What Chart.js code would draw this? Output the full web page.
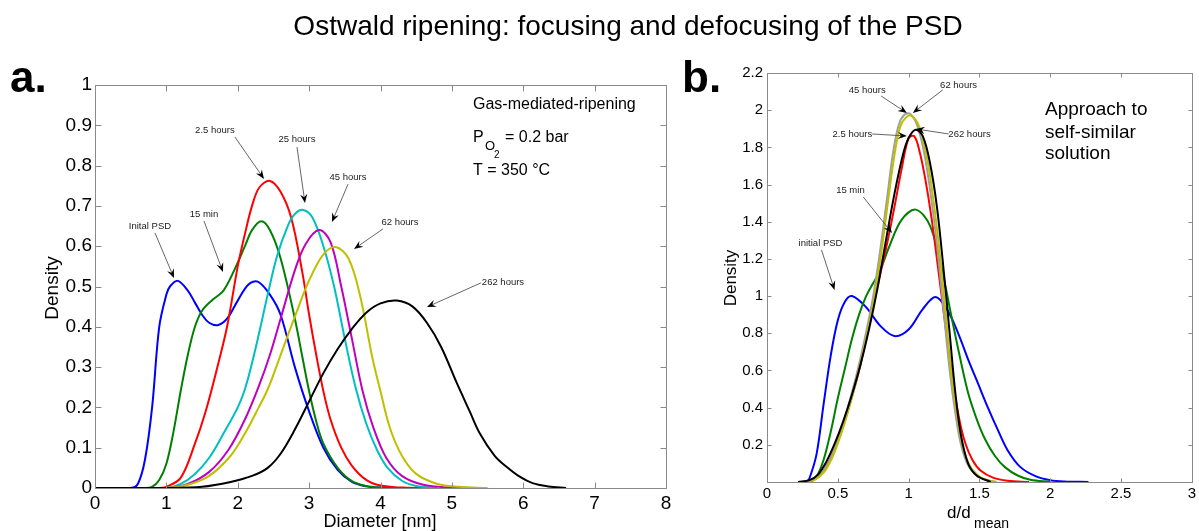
<!DOCTYPE html>
<html>
<head>
<meta charset="utf-8">
<script src="https://cdn.jsdelivr.net/npm/chart.js@4.4.1/dist/chart.umd.min.js"></script>
<style>
  html, body { margin: 0; padding: 0; background: #fff; }
  #wrap { position: relative; width: 1199px; height: 531px; }
  #wrap canvas { position: absolute; left: 0; top: 0; }
</style>
</head>
<body>
<div id="wrap">
  <canvas id="chartA" width="1199" height="531"></canvas>
  <canvas id="chartB" width="1199" height="531"></canvas>
</div>
<script>
// ---- panel a: diameter [nm] vs density ----
const initialA = [[0,0],[0.5,0],[0.6,0.01],[0.7,0.07],[0.8,0.2],[0.9,0.4],[1.0,0.48],[1.05,0.5],[1.16,0.514],[1.3,0.49],[1.4,0.46],[1.5,0.43],[1.6,0.41],[1.72,0.404],[1.85,0.42],[2.0,0.465],[2.15,0.505],[2.28,0.512],[2.45,0.48],[2.6,0.43],[2.8,0.3],[3.0,0.19],[3.2,0.1],[3.4,0.045],[3.6,0.015],[3.8,0.004],[4.0,0.001],[4.3,0]];
const min15A = [[0,0],[0.7,0],[0.8,0.003],[0.9,0.02],[1.0,0.06],[1.1,0.14],[1.2,0.24],[1.3,0.33],[1.4,0.4],[1.5,0.44],[1.64,0.466],[1.8,0.49],[1.95,0.54],[2.1,0.6],[2.2,0.64],[2.33,0.662],[2.45,0.64],[2.6,0.57],[2.8,0.42],[2.9,0.33],[3.0,0.24],[3.1,0.165],[3.2,0.11],[3.4,0.05],[3.6,0.017],[3.8,0.005],[4.0,0.001],[4.2,0]];
const h2_5A = [[0,0],[0.9,0],[1.0,0.003],[1.2,0.025],[1.4,0.11],[1.55,0.19],[1.7,0.29],[1.85,0.4],[2.0,0.55],[2.1,0.63],[2.2,0.7],[2.3,0.745],[2.45,0.762],[2.6,0.735],[2.75,0.67],[2.9,0.54],[3.0,0.43],[3.1,0.33],[3.2,0.24],[3.3,0.17],[3.45,0.1],[3.6,0.055],[3.8,0.02],[4.0,0.006],[4.3,0.001],[4.6,0]];
const h25A = [[0,0],[1.0,0],[1.2,0.01],[1.4,0.035],[1.6,0.075],[1.8,0.135],[2.0,0.2],[2.1,0.245],[2.2,0.31],[2.3,0.385],[2.42,0.48],[2.55,0.575],[2.7,0.65],[2.8,0.68],[2.92,0.69],[3.05,0.67],[3.2,0.6],[3.35,0.5],[3.5,0.37],[3.65,0.25],[3.8,0.16],[3.95,0.095],[4.1,0.05],[4.3,0.018],[4.5,0.005],[4.8,0]];
const h45A = [[0,0],[1.0,0],[1.3,0.01],[1.6,0.04],[1.87,0.095],[2.1,0.17],[2.3,0.255],[2.45,0.33],[2.6,0.42],[2.8,0.54],[2.95,0.605],[3.14,0.64],[3.3,0.61],[3.45,0.5],[3.6,0.37],[3.75,0.24],[3.9,0.15],[4.08,0.075],[4.3,0.03],[4.6,0.008],[5.0,0.001],[5.2,0]];
const h62A = [[0,0],[1.0,0],[1.3,0.008],[1.6,0.03],[1.9,0.08],[2.1,0.135],[2.25,0.185],[2.42,0.245],[2.59,0.325],[2.8,0.425],[3.0,0.515],[3.2,0.58],[3.37,0.598],[3.55,0.57],[3.71,0.48],[3.89,0.32],[4.0,0.24],[4.13,0.15],[4.3,0.08],[4.5,0.035],[4.8,0.01],[5.1,0.003],[5.5,0]];
const h262A = [[0,0],[1.0,0],[1.5,0.003],[1.9,0.015],[2.2,0.03],[2.42,0.05],[2.6,0.085],[2.8,0.145],[3.0,0.215],[3.2,0.285],[3.4,0.345],[3.6,0.395],[3.8,0.435],[4.0,0.458],[4.23,0.465],[4.45,0.45],[4.65,0.41],[4.85,0.35],[5.07,0.26],[5.25,0.19],[5.39,0.136],[5.6,0.08],[5.77,0.052],[5.95,0.028],[6.13,0.012],[6.35,0.004],[6.6,0]];

// ---- panel b: d/d_mean vs density ----
const initialB = [[0.28,0],[0.3,0.02],[0.35,0.15],[0.4,0.42],[0.45,0.68],[0.5,0.87],[0.55,0.97],[0.6,1.0],[0.7,0.94],[0.8,0.84],[0.9,0.785],[1.0,0.82],[1.1,0.93],[1.19,0.995],[1.27,0.93],[1.35,0.8],[1.42,0.66],[1.49,0.53],[1.56,0.4],[1.63,0.28],[1.7,0.17],[1.79,0.08],[1.9,0.03],[2.0,0.01],[2.1,0.003],[2.27,0]];
const min15B = [[0.27,0],[0.3,0.005],[0.35,0.03],[0.4,0.12],[0.45,0.27],[0.5,0.45],[0.55,0.61],[0.6,0.77],[0.65,0.9],[0.7,1.0],[0.75,1.07],[0.8,1.14],[0.86,1.26],[0.95,1.41],[1.05,1.465],[1.15,1.38],[1.23,1.16],[1.3,0.9],[1.36,0.68],[1.42,0.48],[1.48,0.34],[1.54,0.23],[1.61,0.14],[1.68,0.08],[1.77,0.035],[1.86,0.012],[2.0,0]];
const h2_5B = [[0.3,0],[0.35,0.02],[0.4,0.06],[0.45,0.13],[0.5,0.22],[0.55,0.33],[0.6,0.46],[0.65,0.6],[0.7,0.77],[0.75,0.95],[0.8,1.12],[0.85,1.29],[0.9,1.48],[0.95,1.68],[1.0,1.85],[1.04,1.86],[1.08,1.77],[1.12,1.62],[1.16,1.43],[1.21,1.14],[1.26,0.84],[1.31,0.55],[1.36,0.33],[1.4,0.21],[1.45,0.12],[1.51,0.06],[1.6,0.022],[1.7,0.007],[1.85,0]];
const h45B = [[0.24,0],[0.32,0.01],[0.39,0.05],[0.45,0.13],[0.51,0.25],[0.57,0.4],[0.63,0.57],[0.69,0.77],[0.75,1.0],[0.8,1.25],[0.85,1.54],[0.89,1.77],[0.93,1.92],[0.97,1.975],[1.01,1.98],[1.06,1.92],[1.11,1.77],[1.15,1.58],[1.2,1.28],[1.25,0.9],[1.29,0.6],[1.33,0.37],[1.37,0.2],[1.42,0.09],[1.49,0.03],[1.56,0.008],[1.62,0]];
const h62B = [[0.25,0],[0.33,0.01],[0.4,0.05],[0.46,0.13],[0.52,0.25],[0.58,0.4],[0.64,0.57],[0.7,0.77],[0.76,1.0],[0.81,1.25],[0.86,1.54],[0.9,1.76],[0.94,1.91],[0.98,1.96],[1.02,1.97],[1.07,1.92],[1.12,1.78],[1.16,1.6],[1.21,1.3],[1.26,0.92],[1.3,0.6],[1.34,0.37],[1.38,0.2],[1.43,0.09],[1.5,0.03],[1.57,0.008],[1.62,0]];
const h262B = [[0.22,0],[0.3,0.01],[0.36,0.04],[0.42,0.11],[0.48,0.21],[0.54,0.33],[0.6,0.47],[0.66,0.63],[0.72,0.82],[0.78,1.04],[0.84,1.3],[0.9,1.55],[0.96,1.76],[1.0,1.85],[1.05,1.895],[1.1,1.86],[1.15,1.72],[1.2,1.48],[1.25,1.12],[1.29,0.8],[1.33,0.48],[1.37,0.25],[1.42,0.1],[1.48,0.035],[1.58,0]];

const FONT = '"Liberation Sans", Arial, Helvetica, sans-serif';

function series(points, color, i) {
    return {
        data: points.map(p => ({ x: p[0], y: p[1] })),
        borderColor: color,
        borderWidth: 2,
        pointRadius: 0,
        tension: 0.35,
        fill: false,
        order: -i
    };
}

function drawArrow(ctx, x0, y0, x1, y1) {
    const ang = Math.atan2(y1 - y0, x1 - x0);
    const len = 9, half = 3.6;
    const c = Math.cos(ang), s = Math.sin(ang);
    ctx.strokeStyle = '#555';
    ctx.lineWidth = 0.9;
    ctx.beginPath();
    ctx.moveTo(x0, y0);
    ctx.lineTo(x1 - c * len * 0.6, y1 - s * len * 0.6);
    ctx.stroke();
    ctx.fillStyle = '#000';
    ctx.beginPath();
    ctx.moveTo(x1, y1);
    ctx.lineTo(x1 - c * len + s * half, y1 - s * len - c * half);
    ctx.lineTo(x1 - c * len * 0.65, y1 - s * len * 0.65);
    ctx.lineTo(x1 - c * len - s * half, y1 - s * len + c * half);
    ctx.closePath();
    ctx.fill();
}

// frame with inward ticks on all four sides, notes and extra text
const decoPlugin = {
    id: 'deco',
    afterDatasetsDraw(chart, args, opts) {
        const ctx = chart.ctx, a = chart.chartArea;
        const xs = chart.scales.x, ys = chart.scales.y;
        const tl = opts.tickLen || 5;
        ctx.save();
        ctx.strokeStyle = '#8a8a8a';
        ctx.lineWidth = 1;
        const L = Math.round(a.left) + 0.5, R = Math.round(a.right) + 0.5;
        const T = Math.round(a.top) + 0.5, B = Math.round(a.bottom) + 0.5;
        ctx.strokeRect(L, T, R - L, B - T);
        ctx.beginPath();
        xs.ticks.forEach(t => {
            const px = Math.round(xs.getPixelForValue(t.value)) + 0.5;
            ctx.moveTo(px, B); ctx.lineTo(px, B - tl);
            ctx.moveTo(px, T); ctx.lineTo(px, T + tl);
        });
        ys.ticks.forEach(t => {
            const py = Math.round(ys.getPixelForValue(t.value)) + 0.5;
            ctx.moveTo(L, py); ctx.lineTo(L + tl, py);
            ctx.moveTo(R, py); ctx.lineTo(R - tl, py);
        });
        ctx.stroke();

        // notes with arrows, given in data units
        ctx.font = '9.5px ' + FONT;
        ctx.textAlign = 'center';
        ctx.textBaseline = 'middle';
        (opts.notes || []).forEach(n => {
            ctx.fillStyle = '#222';
            ctx.fillText(n.text, xs.getPixelForValue(n.tx), ys.getPixelForValue(n.ty));
            drawArrow(ctx, xs.getPixelForValue(n.x0), ys.getPixelForValue(n.y0),
                           xs.getPixelForValue(n.x1), ys.getPixelForValue(n.y1));
        });

        // axis titles
        ctx.fillStyle = '#000';
        ctx.textBaseline = 'alphabetic';
        if (opts.yTitle) {
            ctx.save();
            ctx.translate(opts.yTitle.x, opts.yTitle.y);
            ctx.rotate(-Math.PI / 2);
            ctx.textAlign = 'center';
            ctx.font = opts.yTitle.size + 'px ' + FONT;
            ctx.fillText(opts.yTitle.text, 0, 0);
            ctx.restore();
        }
        (opts.texts || []).forEach(t => {
            ctx.font = (t.weight || '') + ' ' + t.size + 'px ' + FONT;
            ctx.textAlign = t.align || 'left';
            ctx.fillStyle = t.color || '#000';
            ctx.fillText(t.text, t.x, t.y);
        });
        ctx.restore();
    }
};

function baseOptions(pad, yWidth, xHeight, xTicks, yTicks, deco) {
    return {
        responsive: false,
        animation: false,
        layout: { padding: pad },
        plugins: { legend: { display: false }, tooltip: { enabled: false }, deco: deco },
        scales: {
            x: {
                type: 'linear',
                min: xTicks.min, max: xTicks.max,
                grid: { display: false, drawTicks: false },
                border: { display: false },
                afterFit: s => { s.height = xHeight; },
                ticks: {
                    stepSize: xTicks.step, padding: xTicks.pad, color: '#000',
                    font: { family: FONT, size: xTicks.size },
                    maxRotation: 0,
                    callback: xTicks.cb
                }
            },
            y: {
                type: 'linear',
                min: yTicks.min, max: yTicks.max,
                grid: { display: false, drawTicks: false },
                border: { display: false },
                afterFit: s => { s.width = yWidth; },
                ticks: {
                    stepSize: yTicks.step, padding: yTicks.pad, color: '#000',
                    font: { family: FONT, size: yTicks.size },
                    callback: yTicks.cb
                }
            }
        }
    };
}

const fmt = v => String(+v.toFixed(1));

// Chart a
new Chart(document.getElementById('chartA'), {
    type: 'line',
    plugins: [decoPlugin],
    data: {
        datasets: [
            series(initialA, '#0000ff', 0),
            series(min15A, '#008000', 1),
            series(h2_5A, '#ff0000', 2),
            series(h25A, '#00bfbf', 3),
            series(h45A, '#bf00bf', 4),
            series(h62A, '#bfbf00', 5),
            series(h262A, '#000000', 6)
        ]
    },
    options: baseOptions(
        { left: 35, top: 85, right: 533, bottom: 0 }, 60, 43,
        { min: 0, max: 8, step: 1, pad: 4, size: 19, cb: fmt },
        { min: 0, max: 1, step: 0.1, pad: 3, size: 19, cb: fmt },
        {
            tickLen: 6,
            yTitle: { text: 'Density', x: 58, y: 288, size: 19 },
            notes: [
                { text: 'Inital PSD', tx: 0.77, ty: 0.65, x0: 0.84, y0: 0.633, x1: 1.107, y1: 0.521 },
                { text: '15 min', tx: 1.527, ty: 0.68, x0: 1.527, y0: 0.6625, x1: 1.793, y1: 0.536 },
                { text: '2.5 hours', tx: 1.68, ty: 0.888, x0: 1.96, y0: 0.871, x1: 2.368, y1: 0.767 },
                { text: '25 hours', tx: 2.83, ty: 0.864, x0: 2.83, y0: 0.846, x1: 2.942, y1: 0.707 },
                { text: '45 hours', tx: 3.545, ty: 0.772, x0: 3.545, y0: 0.754, x1: 3.32, y1: 0.66 },
                { text: '62 hours', tx: 4.273, ty: 0.658, x0: 4.035, y0: 0.643, x1: 3.629, y1: 0.593 },
                { text: '262 hours', tx: 5.716, ty: 0.511, x0: 5.408, y0: 0.509, x1: 4.651, y1: 0.449 }
            ],
            texts: [
                { text: 'Ostwald ripening: focusing and defocusing of the PSD', x: 628, y: 35, size: 28, align: 'center' },
                { text: 'a.', x: 10, y: 92, size: 44, weight: 'bold' },
                { text: 'b.', x: 682, y: 92, size: 44, weight: 'bold' },
                { text: 'Diameter [nm]', x: 380, y: 527, size: 18, align: 'center' },
                { text: 'Gas-mediated-ripening', x: 473, y: 109, size: 16 },
                { text: 'P', x: 473, y: 142, size: 16 },
                { text: 'O', x: 485, y: 150, size: 13 },
                { text: '2', x: 494, y: 158, size: 10 },
                { text: '= 0.2 bar', x: 505, y: 142, size: 16 },
                { text: 'T = 350 °C', x: 473, y: 175, size: 16 }
            ]
        }
    )
});

// Chart b
new Chart(document.getElementById('chartB'), {
    type: 'line',
    plugins: [decoPlugin],
    data: {
        datasets: [
            series(initialB, '#0000ff', 0),
            series(min15B, '#008000', 1),
            series(h2_5B, '#ff0000', 2),
            series(h45B, '#a0a0a0', 3),
            series(h62B, '#bfbf00', 4),
            series(h262B, '#000000', 5)
        ]
    },
    options: baseOptions(
        { left: 717, top: 73, right: 0, bottom: 0 }, 50, 49,
        { min: 0, max: 3, step: 0.5, pad: 3, size: 15, cb: fmt },
        { min: 0, max: 2.2, step: 0.2, pad: 4, size: 15, cb: v => (v === 0 ? '' : fmt(v)) },
        {
            tickLen: 4,
            yTitle: { text: 'Density', x: 736, y: 278, size: 17 },
            notes: [
                { text: '45 hours', tx: 0.708, ty: 2.109, x0: 0.806, y0: 2.076, x1: 0.988, y1: 1.985 },
                { text: '62 hours', tx: 1.353, ty: 2.136, x0: 1.241, y0: 2.109, x1: 1.03, y1: 1.985 },
                { text: '2.5 hours', tx: 0.603, ty: 1.872, x0: 0.743, y0: 1.872, x1: 0.988, y1: 1.861 },
                { text: '262 hours', tx: 1.43, ty: 1.872, x0: 1.283, y0: 1.872, x1: 1.051, y1: 1.899 },
                { text: '15 min', tx: 0.589, ty: 1.571, x0: 0.68, y0: 1.533, x1: 0.883, y1: 1.339 },
                { text: 'initial PSD', tx: 0.378, ty: 1.286, x0: 0.385, y0: 1.248, x1: 0.477, y1: 1.033 }
            ],
            texts: [
                { text: 'Approach to', x: 1045, y: 115, size: 19 },
                { text: 'self-similar', x: 1045, y: 138, size: 19 },
                { text: 'solution', x: 1045, y: 159, size: 19 },
                { text: 'd/d', x: 947, y: 518, size: 17 },
                { text: 'mean', x: 974, y: 528, size: 14 }
            ]
        }
    )
});
</script>
</body>
</html>
